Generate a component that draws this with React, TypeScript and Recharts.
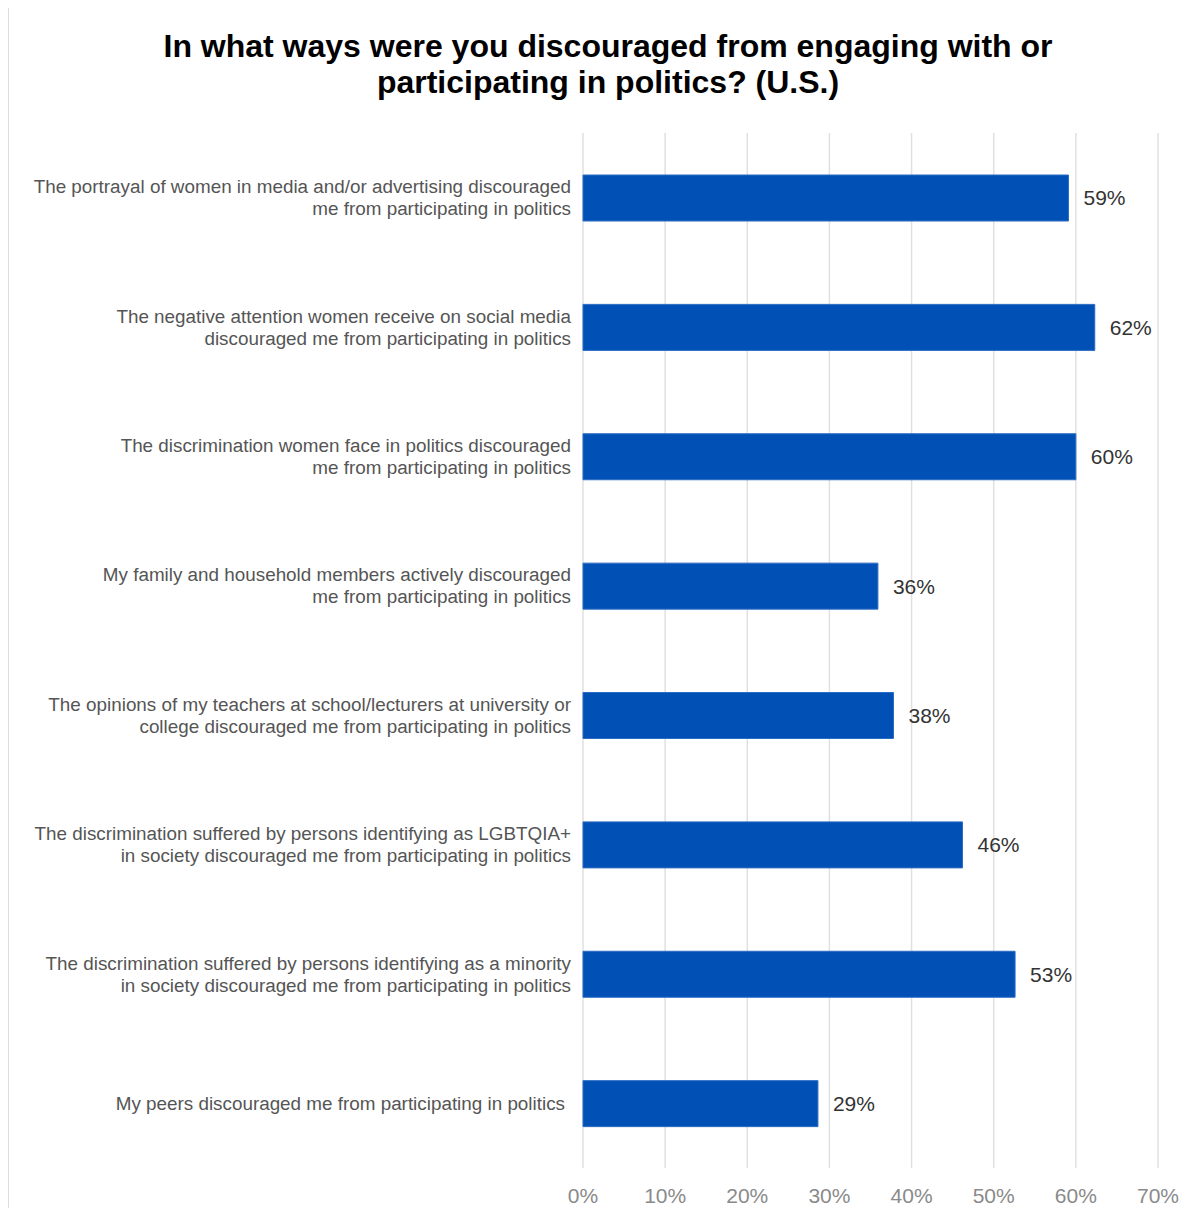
import { Bar, BarChart, CartesianGrid, LabelList, XAxis, YAxis } from 'recharts';

const categories = [
    'The portrayal of women in media and/or advertising discouraged\nme from participating in politics',
    'The negative attention women receive on social media\ndiscouraged me from participating in politics',
    'The discrimination women face in politics discouraged\nme from participating in politics',
    'My family and household members actively discouraged\nme from participating in politics',
    'The opinions of my teachers at school/lecturers at university or\ncollege discouraged me from participating in politics',
    'The discrimination suffered by persons identifying as LGBTQIA+\nin society discouraged me from participating in politics',
    'The discrimination suffered by persons identifying as a minority\nin society discouraged me from participating in politics',
    'My peers discouraged me from participating in politics',
];

const values = [59.1, 62.3, 60.0, 35.9, 37.8, 46.2, 52.6, 28.6];

const xTicks = [0, 10, 20, 30, 40, 50, 60, 70];

const title = ['In what ways were you discouraged from engaging with or', 'participating in politics? (U.S.)'];

const FONT = '"Liberation Sans", Arial, Helvetica, sans-serif';

const data = categories.map((c, i) => ({ name: c, value: values[i] }));

function CategoryTick(props: any) {
    const { x, y, payload } = props;
    const lines: string[] = String(payload.value).split('\n');
    const start = -((lines.length - 1) * 22) / 2;
    return (
        <text
            x={x}
            y={y}
            textAnchor="end"
            fill="#555"
            fontSize={18.85}
            fontFamily={FONT}
        >
            {lines.map((l, i) => (
                <tspan key={i} x={lines.length === 1 ? x - 6 : x} y={y + start + i * 22} dy="0.35em">
                    {l}
                </tspan>
            ))}
        </text>
    );
}

export default function App() {
    return (
        <div
            style={{
                position: 'relative',
                width: 1203,
                height: 1216,
                margin: -8,
                overflow: 'hidden',
                background: '#fff',
                fontFamily: FONT,
            }}
        >
            <div
                style={{
                    position: 'absolute',
                    left: 8,
                    top: 7,
                    width: 1220,
                    height: 1230,
                    border: '1px solid #dcdcdc',
                }}
            />
            <div
                style={{
                    position: 'absolute',
                    left: 8,
                    top: 28,
                    width: 1200,
                    textAlign: 'center',
                    fontSize: 32,
                    fontWeight: 'bold',
                    lineHeight: '36px',
                    color: '#000',
                }}
            >
                {title.map((t) => (
                    <div key={t}>{t}</div>
                ))}
            </div>
            <div style={{ position: 'absolute', left: 0, top: 0 }}>
                <BarChart
                    width={1203}
                    height={1216}
                    data={data}
                    layout="vertical"
                    margin={{ top: 133, right: 45, bottom: 8, left: 0 }}
                    barCategoryGap={0}
                >
                    <CartesianGrid horizontal={false} stroke="#e0e0e0" strokeWidth={1.5} />
                    <XAxis
                        type="number"
                        domain={[0, 70]}
                        ticks={xTicks}
                        tickFormatter={(v) => `${v}%`}
                        axisLine={false}
                        tickLine={false}
                        tickMargin={14}
                        height={40}
                        tick={{ fontSize: 21, fill: '#8a8a8a', fontFamily: FONT }}
                        interval={0}
                    />
                    <YAxis
                        type="category"
                        dataKey="name"
                        width={583}
                        axisLine={false}
                        tickLine={false}
                        tickMargin={6}
                        tick={<CategoryTick />}
                        interval={0}
                    />
                    <Bar
                        dataKey="value"
                        fill="#0050b5"
                        stroke="#2a6cc4"
                        strokeWidth={1}
                        barSize={46}
                        isAnimationActive={false}
                    >
                        <LabelList
                            dataKey="value"
                            position="right"
                            offset={15}
                            formatter={(v: any) => `${Math.round(Number(v))}%`}
                            style={{ fontSize: 21, fill: '#333', fontFamily: FONT }}
                        />
                    </Bar>
                </BarChart>
            </div>
        </div>
    );
}
